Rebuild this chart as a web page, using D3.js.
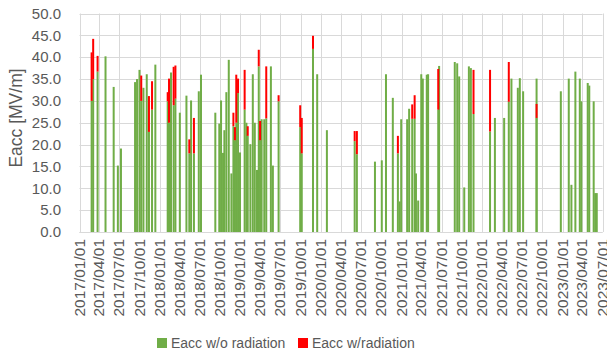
<!DOCTYPE html>
<html>
<head>
<meta charset="utf-8">
<script src="https://cdn.jsdelivr.net/npm/d3@7"></script>
<style>
  body { margin: 0; background: #fff; }
  text { font-family: "Liberation Sans", Arial, sans-serif; fill: #595959; }
</style>
</head>
<body>
<svg id="chart"></svg>
<script>
// measurement dates
var dates = [
  "2017/02/25","2017/03/04","2017/03/24","2017/04/29","2017/06/05","2017/06/24","2017/07/08",
  "2017/09/10","2017/09/19","2017/09/30","2017/10/08","2017/10/18","2017/11/02","2017/11/12",
  "2017/11/26","2017/12/11","2018/02/05","2018/02/11","2018/02/20","2018/03/04","2018/03/12",
  "2018/04/01","2018/05/01","2018/05/14","2018/05/22","2018/06/04","2018/06/26","2018/07/06",
  "2018/09/09","2018/09/27","2018/10/05","2018/10/14","2018/10/20","2018/10/29","2018/11/09",
  "2018/11/21","2018/11/30","2018/12/07","2018/12/13","2018/12/21","2018/12/30","2019/01/20",
  "2019/01/28","2019/02/03","2019/02/15","2019/02/26","2019/03/07","2019/03/17","2019/03/25",
  "2019/03/31","2019/04/07","2019/04/19","2019/04/28","2019/05/19","2019/05/28","2019/06/23",
  "2019/09/29","2019/10/06","2019/11/26","2019/12/15","2020/01/28","2020/06/02","2020/06/12",
  "2020/09/02","2020/10/03","2020/10/22","2020/11/22","2020/12/15","2020/12/23","2020/12/30",
  "2021/01/26","2021/02/04","2021/02/18","2021/03/01","2021/03/07","2021/03/17","2021/03/31",
  "2021/04/07","2021/04/25","2021/05/01","2021/06/16","2021/06/20","2021/08/30","2021/09/10",
  "2021/09/19","2021/10/12","2021/11/02","2021/11/11","2021/11/23","2022/02/06","2022/02/28",
  "2022/04/11","2022/05/02","2022/05/14","2022/06/12","2022/06/21","2022/07/06","2022/09/05",
  "2022/09/05","2022/12/24","2023/01/29","2023/02/10","2023/02/28","2023/03/20","2023/03/27",
  "2023/04/25","2023/05/02","2023/05/22","2023/05/29","2023/06/05"
];

// Eacc w/o radiation
var woRad = [
  30, 35, 36.7, 40.2, 33.2, 15.2, 19.1,
  34.3, 35, 37.1, 30, 33, 36.1, 22.9,
  28, 38.3, 29.9, 25, 36.5, 29, 30.5,
  27.3, 31.2, 18, 30.1, 18, 32.2, 36,
  27.3, 24.8, 30.1, 18.1, 23.3, 32, 39.4,
  13.4, 24.2, 21, 25, 31.8, 18.2, 28,
  25, 22, 20.1, 36.1, 25, 14.2, 37.9,
  21, 25.8, 25.8, 26, 37.9, 15.2, 29.9,
  24, 18, 41.9, 36.1, 23.3, 20.8, 17.8,
  16.1, 16.4, 36.1, 30.7, 18, 7, 25.8,
  25.8, 28.2, 25.9, 25.9, 13.4, 7.2, 36.1,
  35.1, 36, 36.1, 28, 38, 38.9, 38.6,
  35.6, 10.2, 37.9, 37.5, 27, 23, 26.1,
  26.1, 29.8, 35.1, 33, 35.2, 32.2, 35.1,
  26.1, 32.2, 35.1, 10.8, 36.7, 35.1, 29.9,
  34.1, 33.5, 29.9, 8.9, 8.9
];

// additional Eacc w/radiation (stacked on top)
var wRad = [
  11.1, 9.2, 3.6, 0, 0, 0, 0,
  0, 0, 0, 5.8, 0, 0, 8.2,
  6.5, 0, 2.1, 10.1, 0, 8.8, 7.6,
  0, 0, 3.2, 0, 8.1, 0, 0,
  0, 0, 0, 0, 0, 0, 0,
  0, 3.1, 3, 11, 3.3, 0, 9.1,
  0, 2.2, 0, 0, 0, 0, 3.8,
  4.4, 0, 0, 11.9, 0, 0, 1.4,
  5, 8.1, 3, 0, 0, 2.3, 5.3,
  0, 0, 0, 0, 4, 0, 0,
  0, 0, 3.3, 5.4, 0, 0, 0,
  0, 0, 0, 9.3, 0, 0, 0,
  0, 0, 0, 0, 10.1, 14.1, 0,
  0, 9.1, 0, 0, 0, 0, 0,
  3.2, 0, 0, 0, 0, 0, 0,
  0, 0, 0, 0, 0
];

var yTicks = [0, 5, 10, 15, 20, 25, 30, 35, 40, 45, 50];
var seriesNames = ["Eacc w/o radiation", "Eacc w/radiation"];
var seriesColors = ["#70AD47", "#FF0000"];

var width = 607, height = 355;
var plotLeft = 79.5, plotRight = 602.5, plotTop = 13.5, plotBottom = 232;

var parse = d3.timeParse("%Y/%m/%d");
var data = dates.map(function(d, i) {
  return { date: parse(d), wo: woRad[i], w: wRad[i] };
});

var svg = d3.select("#chart")
  .attr("width", width)
  .attr("height", height);

var x = d3.scaleTime()
  .domain([parse("2017/01/01"), parse("2023/07/01")])
  .range([plotLeft, plotRight]);

var y = d3.scaleLinear()
  .domain([0, 50])
  .range([plotBottom, plotTop]);

var quarterTicks = d3.timeMonth.range(parse("2017/01/01"), parse("2023/07/02"), 3);

// gridlines
svg.append("g")
  .selectAll("line")
  .data(yTicks)
  .enter().append("line")
  .attr("x1", plotLeft).attr("x2", plotRight)
  .attr("y1", function(d) { return Math.round(y(d)) + 0.5; })
  .attr("y2", function(d) { return Math.round(y(d)) + 0.5; })
  .attr("stroke", "#d9d9d9");

svg.append("g")
  .selectAll("line")
  .data(quarterTicks)
  .enter().append("line")
  .attr("x1", function(d) { return Math.round(x(d)) + 0.5; })
  .attr("x2", function(d) { return Math.round(x(d)) + 0.5; })
  .attr("y1", plotTop).attr("y2", plotBottom)
  .attr("stroke", "#d9d9d9");

// y axis labels
svg.append("g")
  .selectAll("text")
  .data(yTicks)
  .enter().append("text")
  .attr("x", 61)
  .attr("y", function(d) { return y(d); })
  .attr("dy", "0.35em")
  .attr("text-anchor", "end")
  .style("font-size", "15px")
  .text(function(d) { return d.toFixed(1); });

// x axis labels (rotated)
var fmt = d3.timeFormat("%Y/%m/%d");
svg.append("g")
  .selectAll("text")
  .data(quarterTicks)
  .enter().append("text")
  .attr("transform", function(d) { return "translate(" + (x(d) + 5) + ",239) rotate(-90)"; })
  .attr("text-anchor", "end")
  .style("font-size", "15.5px")
  .text(function(d) { return fmt(d); });

// bars: green first, then the red part on top
var bw = 2;
svg.append("g")
  .selectAll("rect")
  .data(data)
  .enter().append("rect")
  .attr("x", function(d) { return x(d.date) - bw / 2; })
  .attr("width", bw)
  .attr("y", function(d) { return y(d.wo); })
  .attr("height", function(d) { return y(0) - y(d.wo); })
  .attr("fill", seriesColors[0]);

svg.append("g")
  .selectAll("rect")
  .data(data.filter(function(d) { return d.w > 0; }))
  .enter().append("rect")
  .attr("x", function(d) { return x(d.date) - bw / 2; })
  .attr("width", bw)
  .attr("y", function(d) { return y(d.wo + d.w); })
  .attr("height", function(d) { return y(d.wo) - y(d.wo + d.w); })
  .attr("fill", seriesColors[1]);

// axis line
svg.append("line")
  .attr("x1", plotLeft).attr("x2", plotRight)
  .attr("y1", Math.round(plotBottom) + 0.5).attr("y2", Math.round(plotBottom) + 0.5)
  .attr("stroke", "#d9d9d9");

// y axis title
svg.append("text")
  .attr("transform", "translate(22,118) rotate(-90)")
  .attr("text-anchor", "middle")
  .style("font-size", "17.5px")
  .text("Eacc [MV/m]");

// legend
var legendX = [157, 298];
var legend = svg.append("g");
legend.selectAll("rect")
  .data(seriesColors)
  .enter().append("rect")
  .attr("x", function(d, i) { return legendX[i]; })
  .attr("y", 338)
  .attr("width", 10)
  .attr("height", 10)
  .attr("fill", function(d) { return d; });

legend.selectAll("text")
  .data(seriesNames)
  .enter().append("text")
  .attr("x", function(d, i) { return legendX[i] + 14; })
  .attr("y", 343)
  .attr("dy", "0.35em")
  .style("font-size", "14px")
  .text(function(d) { return d; });
</script>
</body>
</html>
